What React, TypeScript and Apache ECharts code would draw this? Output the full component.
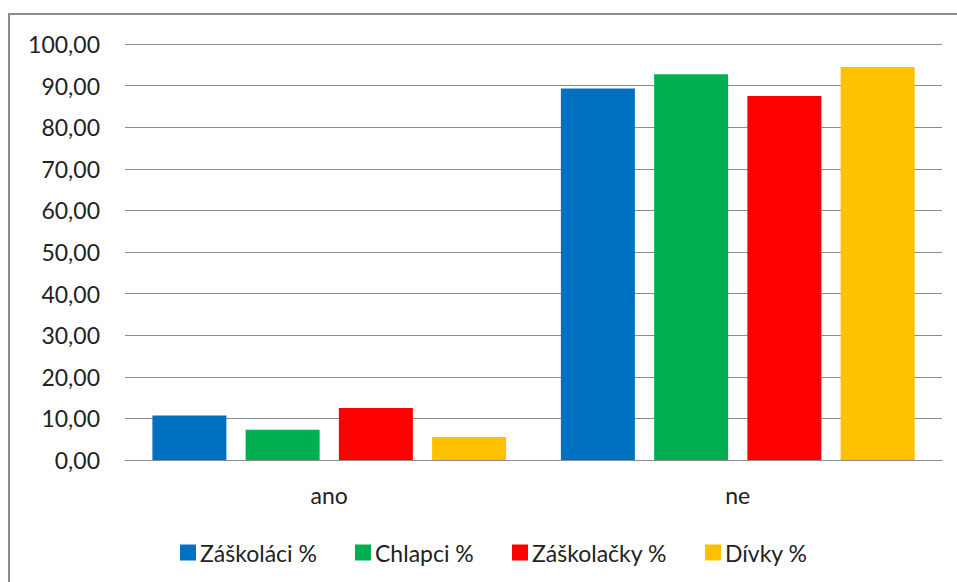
import React, { useEffect, useRef } from "react";
import * as echarts from "echarts";

const categories = ["ano", "ne"];
const seriesNames = ["Záškoláci %", "Chlapci %", "Záškolačky %", "Dívky %"];
const zaskolaci = [10.7, 89.3];
const chlapci = [7.3, 92.7];
const zaskolacky = [12.5, 87.5];
const divky = [5.5, 94.5];
const colors = ["#0070C0", "#00B050", "#FF0000", "#FFC000"];
const legendLefts = [180, 355, 512, 705];

const FONT = "Lato, 'Open Sans', sans-serif";
const FS = 23;

export default function App() {
  const ref = useRef<HTMLDivElement>(null);
  useEffect(() => {
    if (!ref.current) return;
    const chart = echarts.init(ref.current, undefined, { renderer: "svg" });
    const values = [zaskolaci, chlapci, zaskolacky, divky];
    chart.setOption({
      animation: false,
      backgroundColor: "#ffffff",
      textStyle: { fontFamily: FONT },
      graphic: [
        {
          type: "rect",
          shape: { x: 9, y: 14, width: 1000, height: 620 },
          style: { fill: "none", stroke: "#8c8c8c", lineWidth: 2 },
          silent: true,
          z: -1,
        },
      ],
      grid: { left: 125, right: 15, top: 44, bottom: 122, containLabel: false },
      legend: seriesNames.map((name, i) => ({
        data: [name],
        left: legendLefts[i],
        top: 541,
        padding: 0,
        itemWidth: 16,
        itemHeight: 16,
        icon: "rect",
        textStyle: { fontFamily: FONT, fontSize: FS, color: "#222", padding: [0, 0, 0, -1] },
      })),
      xAxis: {
        type: "category",
        data: categories,
        axisLine: { show: true, lineStyle: { color: "#8c8c8c", width: 1 } },
        axisTick: { show: false },
        axisLabel: { fontFamily: FONT, fontSize: FS, color: "#222", margin: 23 },
      },
      yAxis: {
        type: "value",
        min: 0,
        max: 100,
        interval: 10,
        axisLine: { show: false },
        axisTick: { show: false },
        splitLine: { lineStyle: { color: "#8c8c8c", width: 1 } },
        axisLabel: {
          fontFamily: FONT,
          fontSize: FS,
          color: "#222",
          margin: 25,
          formatter: (v: number) => v.toFixed(2).replace(".", ","),
        },
      },
      series: seriesNames.map((name, i) => ({
        name,
        type: "bar",
        data: values[i],
        barWidth: 74,
        barGap: "26%",
        itemStyle: { color: colors[i] },
      })),
    });
    return () => chart.dispose();
  }, []);
  return (
    <div
      ref={ref}
      style={{ position: "fixed", left: 0, top: 0, width: 957, height: 582 }}
    />
  );
}
